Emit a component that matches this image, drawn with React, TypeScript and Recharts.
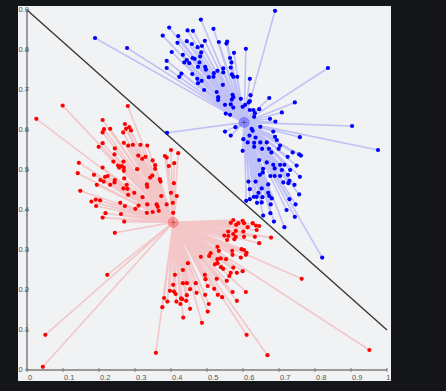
import React from 'react';
import { ScatterChart, Scatter, XAxis, YAxis, ReferenceLine } from 'recharts';

const xTicks = [0, 0.1, 0.2, 0.3, 0.4, 0.5, 0.6, 0.7, 0.8, 0.9, 1];
const xTickLabels = ['0', '0.1', '0.2', '0.3', '0.4', '0.5', '0.6', '0.7', '0.8', '0.9', '1'];
const yTicks = [0, 0.1, 0.2, 0.3, 0.4, 0.5, 0.6, 0.7, 0.8, 0.9];
const yTickLabels = ['0', '0.1', '0.2', '0.3', '0.4', '0.5', '0.6', '0.7', '0.8', '0.9'];

const blueCentroid: [number, number] = [0.603, 0.619];
const redCentroid: [number, number] = [0.406, 0.369];

const boundary: [number, number][] = [[0, 0.9], [1, 0.1]];

const bluePoints: [number, number][] = [
  [0.483,0.876],[0.395,0.856],[0.518,0.853],[0.446,0.849],[0.461,0.848],[0.377,0.836],[0.420,0.835],[0.444,0.822],[0.494,0.823],[0.533,0.820],
  [0.556,0.821],[0.554,0.816],[0.418,0.818],[0.458,0.815],[0.486,0.810],[0.474,0.807],[0.608,0.803],[0.402,0.795],[0.484,0.794],[0.433,0.788],
  [0.575,0.793],[0.460,0.780],[0.466,0.778],[0.444,0.775],[0.481,0.784],[0.564,0.780],[0.388,0.773],[0.437,0.769],[0.451,0.767],[0.479,0.769],
  [0.568,0.769],[0.388,0.755],[0.475,0.758],[0.495,0.758],[0.497,0.751],[0.566,0.756],[0.459,0.740],[0.529,0.748],[0.545,0.754],[0.545,0.744],
  [0.429,0.741],[0.423,0.733],[0.519,0.742],[0.518,0.733],[0.569,0.739],[0.573,0.733],[0.584,0.733],[0.505,0.732],[0.473,0.728],[0.485,0.723],
  [0.475,0.717],[0.619,0.728],[0.544,0.713],[0.492,0.700],[0.527,0.695],[0.571,0.688],[0.573,0.682],[0.531,0.682],[0.621,0.687],[0.594,0.678],
  [0.619,0.672],[0.673,0.680],[0.531,0.675],[0.569,0.676],[0.616,0.669],[0.744,0.669],[0.550,0.663],[0.566,0.664],[0.573,0.656],[0.599,0.658],
  [0.606,0.663],[0.619,0.650],[0.629,0.650],[0.645,0.652],[0.633,0.642],[0.708,0.644],[0.552,0.641],[0.564,0.638],[0.631,0.633],[0.675,0.628],
  [0.690,0.621],[0.579,0.607],[0.550,0.596],[0.566,0.586],[0.624,0.603],[0.627,0.598],[0.648,0.608],[0.684,0.596],[0.689,0.583],[0.694,0.575],
  [0.758,0.582],[0.618,0.586],[0.601,0.577],[0.635,0.581],[0.613,0.569],[0.631,0.568],[0.648,0.569],[0.666,0.569],[0.599,0.548],[0.631,0.558],
  [0.653,0.553],[0.672,0.553],[0.703,0.561],[0.699,0.553],[0.679,0.544],[0.738,0.544],[0.756,0.539],[0.761,0.536],[0.724,0.533],[0.645,0.525],
  [0.666,0.519],[0.703,0.513],[0.684,0.513],[0.715,0.513],[0.749,0.511],[0.656,0.503],[0.688,0.504],[0.708,0.500],[0.731,0.500],[0.647,0.488],
  [0.676,0.485],[0.688,0.485],[0.703,0.485],[0.725,0.488],[0.758,0.483],[0.655,0.494],[0.615,0.471],[0.635,0.471],[0.670,0.464],[0.712,0.469],
  [0.729,0.473],[0.726,0.467],[0.743,0.463],[0.619,0.452],[0.652,0.454],[0.643,0.443],[0.638,0.433],[0.630,0.433],[0.670,0.443],[0.673,0.435],
  [0.680,0.429],[0.654,0.432],[0.756,0.439],[0.619,0.427],[0.609,0.423],[0.639,0.418],[0.652,0.419],[0.677,0.414],[0.729,0.427],[0.746,0.414],
  [0.721,0.400],[0.676,0.392],[0.656,0.386],[0.744,0.383],[0.686,0.371],[0.715,0.357],[0.820,0.281],[0.189,0.830],[0.278,0.805],[0.389,0.593],
  [0.689,0.898],[0.836,0.755],[0.903,0.610],[0.975,0.550],
];

const redPoints: [number, number][] = [
  [0.099,0.661],[0.280,0.660],[0.210,0.625],[0.272,0.615],[0.214,0.602],[0.210,0.594],[0.231,0.603],[0.275,0.603],[0.284,0.607],[0.289,0.599],
  [0.267,0.594],[0.210,0.567],[0.199,0.558],[0.269,0.568],[0.281,0.561],[0.294,0.563],[0.315,0.563],[0.334,0.561],[0.244,0.554],[0.243,0.539],
  [0.309,0.536],[0.320,0.528],[0.329,0.533],[0.240,0.521],[0.268,0.521],[0.263,0.510],[0.144,0.518],[0.253,0.511],[0.256,0.506],[0.269,0.506],
  [0.210,0.506],[0.349,0.524],[0.356,0.512],[0.356,0.503],[0.306,0.502],[0.383,0.535],[0.388,0.531],[0.400,0.550],[0.420,0.542],[0.409,0.517],
  [0.394,0.510],[0.141,0.492],[0.269,0.498],[0.186,0.488],[0.224,0.485],[0.217,0.483],[0.204,0.475],[0.213,0.471],[0.244,0.475],[0.243,0.469],
  [0.270,0.479],[0.348,0.486],[0.342,0.481],[0.369,0.477],[0.371,0.471],[0.408,0.467],[0.194,0.463],[0.231,0.463],[0.277,0.463],[0.333,0.464],
  [0.334,0.458],[0.268,0.454],[0.279,0.453],[0.148,0.448],[0.298,0.443],[0.281,0.438],[0.400,0.443],[0.373,0.435],[0.416,0.435],[0.321,0.432],
  [0.179,0.421],[0.191,0.426],[0.203,0.424],[0.192,0.410],[0.259,0.418],[0.272,0.410],[0.310,0.411],[0.334,0.414],[0.360,0.414],[0.363,0.408],
  [0.388,0.414],[0.405,0.418],[0.301,0.403],[0.333,0.393],[0.349,0.395],[0.366,0.398],[0.406,0.393],[0.218,0.392],[0.261,0.390],[0.210,0.381],
  [0.270,0.371],
  [0.573,0.375],[0.566,0.368],[0.599,0.373],[0.603,0.367],[0.581,0.363],[0.587,0.367],[0.627,0.367],[0.636,0.361],[0.645,0.360],[0.613,0.357],
  [0.638,0.350],[0.559,0.346],[0.580,0.348],[0.601,0.346],[0.573,0.340],[0.548,0.336],[0.559,0.335],[0.580,0.333],[0.603,0.333],[0.633,0.333],
  [0.678,0.331],[0.556,0.325],[0.576,0.327],[0.645,0.317],[0.529,0.308],[0.533,0.298],[0.510,0.292],[0.506,0.285],[0.483,0.283],[0.570,0.298],
  [0.596,0.302],[0.603,0.300],[0.610,0.293],[0.608,0.288],[0.571,0.288],[0.594,0.281],[0.553,0.277],[0.529,0.277],[0.538,0.279],[0.529,0.267],
  [0.522,0.264],[0.447,0.267],[0.539,0.257],[0.545,0.253],[0.573,0.256],[0.433,0.250],[0.566,0.243],[0.583,0.243],[0.599,0.247],[0.411,0.238],
  [0.494,0.238],[0.562,0.235],[0.496,0.227],[0.527,0.228],[0.433,0.217],[0.444,0.217],[0.469,0.217],[0.555,0.223],[0.406,0.213],[0.502,0.210],
  [0.397,0.198],[0.408,0.196],[0.453,0.202],[0.520,0.203],[0.471,0.193],[0.571,0.195],[0.608,0.195],[0.413,0.190],[0.444,0.187],[0.495,0.188],
  [0.530,0.188],[0.542,0.182],[0.381,0.180],[0.428,0.179],[0.431,0.177],[0.442,0.173],[0.390,0.171],[0.415,0.171],[0.426,0.165],[0.583,0.173],
  [0.505,0.165],[0.376,0.157],[0.453,0.153],[0.502,0.146],[0.434,0.131],[0.486,0.118],[0.610,0.088],[0.358,0.043],[0.026,0.628],[0.244,0.343],
  [0.223,0.238],[0.051,0.088],[0.044,0.008],[0.763,0.228],[0.951,0.050],[0.668,0.037],
];

const CHART_W = 373;
const CHART_H = 375;
const MARGIN = { top: 4, right: 4, bottom: 0, left: 0 };
const X_AXIS_H = 11;
const Y_AXIS_W = 9;
const PLOT_BOTTOM = CHART_H - MARGIN.bottom - X_AXIS_H;
const PLOT_LEFT = MARGIN.left + Y_AXIS_W;

const toObj = (arr: [number, number][]) => arr.map(([x, y]) => ({ x, y }));
const blueData = toObj(bluePoints);
const redData = toObj(redPoints);
// spokes: centroid -> point -> centroid -> next point ... drawn as one path
const spokes = (c: [number, number], arr: [number, number][]) => {
  const out: { x: number; y: number }[] = [];
  arr.forEach(([x, y]) => {
    out.push({ x: c[0], y: c[1] });
    out.push({ x, y });
  });
  out.push({ x: c[0], y: c[1] });
  return out;
};
const blueSpokes = spokes(blueCentroid, bluePoints);
const redSpokes = spokes(redCentroid, redPoints);

const AXIS_COLOR = '#7c7c7c';
const LABEL_COLOR = '#555';
const LABEL_FONT = 'Liberation Sans, Arial, sans-serif';

const XTick = (props: any) => {
  const { x, payload, index } = props;
  const last = index === xTicks.length - 1;
  return (
    <g>
      <line x1={x} x2={x} y1={PLOT_BOTTOM - 2} y2={PLOT_BOTTOM + 2} stroke={AXIS_COLOR} strokeWidth={1} />
      <text x={last ? CHART_W - 0.5 : x + 1} y={PLOT_BOTTOM + 7} dy="0.35em" textAnchor={last ? 'end' : 'start'} fontSize={7.5} fill={LABEL_COLOR} fontFamily={LABEL_FONT}>
        {xTickLabels[index] ?? String(payload.value)}
      </text>
    </g>
  );
};

const YTick = (props: any) => {
  const { y, payload, index } = props;
  return (
    <g>
      <line x1={PLOT_LEFT - 2} x2={PLOT_LEFT + 2} y1={y} y2={y} stroke={AXIS_COLOR} strokeWidth={1} />
      <text x={0.5} y={y - 1} dy="0.35em" textAnchor="start" fontSize={7.5} fill={LABEL_COLOR} fontFamily={LABEL_FONT}>
        {yTickLabels[index] ?? String(payload.value)}
      </text>
    </g>
  );
};

const makeDot = (color: string) => (p: any) => (
  <circle cx={p.cx} cy={p.cy} r={2.1} fill={color} />
);
const noDot = () => <g />;

const makeCentroid = (fill: string, cross: string) => (p: any) => (
  <g>
    <circle cx={p.cx} cy={p.cy} r={5} fill={fill} fillOpacity={0.4} stroke={fill} strokeOpacity={0.45} strokeWidth={0.8} />
    <line x1={p.cx - 3} x2={p.cx + 3} y1={p.cy} y2={p.cy} stroke={cross} strokeOpacity={0.5} strokeWidth={0.7} />
    <line x1={p.cx} x2={p.cx} y1={p.cy - 3} y2={p.cy + 3} stroke={cross} strokeOpacity={0.5} strokeWidth={0.7} />
  </g>
);

export default function App() {
  return (
    <div style={{ position: 'fixed', left: 0, top: 0, width: 446, height: 391, background: '#141519' }}>
      <div style={{ position: 'absolute', left: 18, top: 6, width: CHART_W, height: CHART_H, background: '#f1f2f4', overflow: 'hidden' }}>
        <ScatterChart width={CHART_W} height={CHART_H} margin={MARGIN}>
          <XAxis
            type="number"
            dataKey="x"
            domain={[0, 1]}
            ticks={xTicks}
            interval={0}
            height={X_AXIS_H}
            tickLine={false}
            axisLine={{ stroke: AXIS_COLOR, strokeWidth: 1.5 }}
            tick={XTick}
          />
          <YAxis
            type="number"
            dataKey="y"
            domain={[0, 0.9]}
            ticks={yTicks}
            interval={0}
            width={Y_AXIS_W}
            tickLine={false}
            axisLine={{ stroke: AXIS_COLOR, strokeWidth: 1.5 }}
            tick={YTick}
          />
          <Scatter
            data={blueSpokes}
            isAnimationActive={false}
            shape={noDot}
            line={{ stroke: '#0000ff', strokeOpacity: 0.2, strokeWidth: 1.6, strokeLinejoin: 'round' }}
          />
          <Scatter
            data={redSpokes}
            isAnimationActive={false}
            shape={noDot}
            line={{ stroke: '#ff0000', strokeOpacity: 0.18, strokeWidth: 1.6, strokeLinejoin: 'round' }}
          />
          <ReferenceLine
            segment={[{ x: boundary[0][0], y: boundary[0][1] }, { x: boundary[1][0], y: boundary[1][1] }]}
            stroke="#333"
            strokeWidth={1.3}
          />
          <Scatter data={blueData} isAnimationActive={false} shape={makeDot('#0000ff')} />
          <Scatter data={redData} isAnimationActive={false} shape={makeDot('#ff0000')} />
          <Scatter data={[{ x: blueCentroid[0], y: blueCentroid[1] }]} isAnimationActive={false} shape={makeCentroid('#3b3bff', '#000066')} />
          <Scatter data={[{ x: redCentroid[0], y: redCentroid[1] }]} isAnimationActive={false} shape={makeCentroid('#ff3b3b', '#660000')} />
        </ScatterChart>
      </div>
    </div>
  );
}
